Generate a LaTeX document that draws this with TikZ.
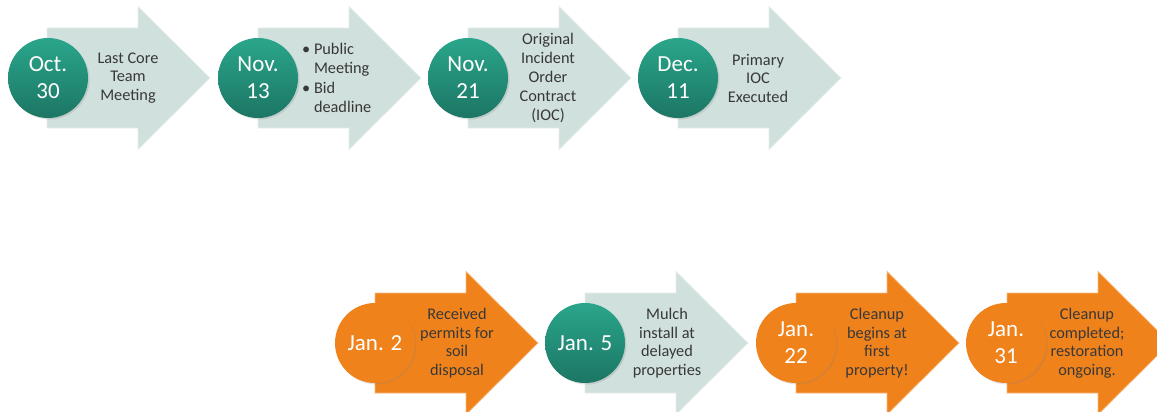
\documentclass[tikz,border=0pt]{standalone}
\usepackage{fontspec}
\setmainfont{Carlito}
\usetikzlibrary{shadows}
\definecolor{tealA}{HTML}{2AA68B}
\definecolor{tealB}{HTML}{1C7664}
\definecolor{pale}{HTML}{D0E0DC}
\definecolor{orng}{HTML}{F0821C}
\definecolor{txt}{HTML}{383838}
\newcommand\tlarrow[3]{% #1 left x, #2 centre y, #3 colour
  \path[arrowshape=#3] (#1,{#2-50}) -- ({#1+91},{#2-50}) -- ({#1+91},{#2-71.5}) -- ({#1+163},#2)
    -- ({#1+91},{#2+71.5}) -- ({#1+91},{#2+50}) -- (#1,{#2+50}) -- cycle;}
\tikzset{
  arrowshape/.style={fill=#1, draw=white!45!#1, line width=0.7pt},
  datecircle/.style={circle, minimum size=80pt, inner sep=0pt, text=white,
    font=\fontsize{23}{27}\selectfont, align=center,
    drop shadow={opacity=0.22, shadow xshift=1.5pt, shadow yshift=-1.5pt}},
  tealdate/.style={datecircle, top color=tealA, bottom color=tealB},
  orangedate/.style={datecircle, fill=orng},
  steptext/.style={text=txt, font=\fontsize{16.3}{18.5}\selectfont, align=center, inner sep=0pt},
}
\begin{document}
\begin{tikzpicture}[x=1pt,y=-1pt]
\useasboundingbox (0,0) rectangle (1157,412);
\clip (0,0) rectangle (1157,412);
% top row
\tlarrow{47}{78}{pale}
\tlarrow{258}{78}{pale}
\tlarrow{468}{78}{pale}
\tlarrow{678}{78}{pale}
\node[tealdate] (d1) at (48,78) {Oct.\\30};
\node[tealdate] (d2) at (258,78) {Nov.\\13};
\node[tealdate] (d3) at (468,78) {Nov.\\21};
\node[tealdate] (d4) at (678,78) {Dec.\\11};
\node[steptext] (t1) at (128,78) {Last Core\\Team\\Meeting};
\node[steptext, align=left, anchor=west, font=\fontsize{16.3}{19.5}\selectfont] (t2) at (302,78) {\textbullet\ Public\\\phantom{\textbullet\ }Meeting\\\textbullet\ Bid\\\phantom{\textbullet\ }deadline};
\node[steptext, font=\fontsize{16.3}{19.2}\selectfont] (t3) at (548,78) {Original\\Incident\\Order\\Contract\\(IOC)};
\node[steptext] (t4) at (758,78) {Primary\\IOC\\Executed};
% bottom row
\tlarrow{375}{343}{orng}
\tlarrow{585}{343}{pale}
\tlarrow{796}{343}{orng}
\tlarrow{1007}{343}{orng}
\node[orangedate] (d5) at (375,343) {Jan. 2};
\node[tealdate] (d6) at (585,343) {Jan. 5};
\node[orangedate] (d7) at (796,343) {Jan.\\22};
\node[orangedate] (d8) at (1006,343) {Jan.\\31};
\node[steptext] (t5) at (457,343) {Received\\permits for\\soil\\disposal};
\node[steptext] (t6) at (667,343) {Mulch\\install at\\delayed\\properties};
\node[steptext] (t7) at (877,343) {Cleanup\\begins at\\first\\property!};
\node[steptext] (t8) at (1087,343) {Cleanup\\completed;\\restoration\\ongoing.};
\end{tikzpicture}
\end{document}
